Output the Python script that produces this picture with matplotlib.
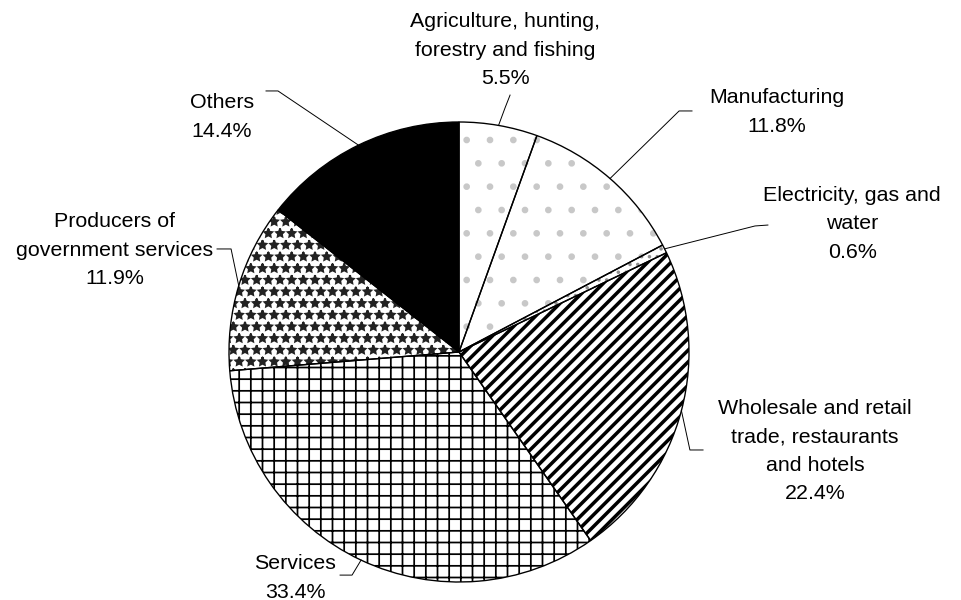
import numpy as np
import matplotlib
matplotlib.use("Agg")
from matplotlib import pyplot as plt

plt.rcParams['font.family'] = ['Liberation Sans', 'DejaVu Sans']

# GDP shares by sector (%), clockwise from 12 o'clock
sectors = ['Agriculture, hunting,\nforestry and fishing',
           'Manufacturing',
           'Electricity, gas and\nwater',
           'Wholesale and retail\ntrade, restaurants\nand hotels',
           'Services',
           'Producers of\ngovernment services',
           'Others']
shares = [5.5, 11.8, 0.6, 22.4, 33.4, 11.9, 14.4]

# look of each wedge
hatches = ['.', '.', '...', '////', '++', '**', '']
hatch_colors = ['#c8c8c8', '#c8c8c8', '#909090', 'black', 'black', '#222222', 'black']
fills = ['white', 'white', 'white', 'white', 'white', 'white', 'black']
hatch_widths = [1.0, 1.0, 1.0, 1.8, 0.9, 1.0, 1.0]

# label placement (data units, pie radius = 1)
text_pos = [(0.20, 1.313), (1.383, 1.043), (1.709, 0.557), (1.548, -0.430),
            (-0.713, -0.983), (-1.496, 0.443), (-1.030, 1.022)]
leader_elbow = [(0.200, 1.061), (0.957, 1.048), (1.287, 0.548), (1.004, -0.426),
                (-0.465, -0.970), (-0.991, 0.448), (-0.787, 1.135)]
leader_end = [(0.222, 1.117), (1.013, 1.048), (1.343, 0.552), (1.061, -0.426),
              (-0.517, -0.970), (-1.052, 0.448), (-0.839, 1.135)]

fig = plt.figure(figsize=(961 / 140, 600 / 140), dpi=140)
ax = fig.add_axes([0, 0, 1, 1])

# hatched fill pass
wedges, _ = ax.pie(shares, startangle=90, counterclock=False, radius=1,
                   colors=fills, wedgeprops=dict(linewidth=0))
for w, h, hc, hw in zip(wedges, hatches, hatch_colors, hatch_widths):
    w.set_hatch(h)
    w.set_edgecolor(hc)
    if hasattr(w, 'set_hatch_linewidth'):
        w.set_hatch_linewidth(hw)

# outline pass
ax.pie(shares, startangle=90, counterclock=False, radius=1,
       wedgeprops=dict(fill=False, edgecolor='black', linewidth=0.7))

# labels with leader lines
cum = np.cumsum([0] + shares)
for i, name in enumerate(sectors):
    mid = np.deg2rad(90 - 3.6 * (cum[i] + cum[i + 1]) / 2)
    xs = [np.cos(mid), leader_elbow[i][0], leader_end[i][0]]
    ys = [np.sin(mid), leader_elbow[i][1], leader_end[i][1]]
    ax.plot(xs, ys, color='black', lw=0.5)
    ax.text(text_pos[i][0], text_pos[i][1], f'{name}\n{shares[i]}%',
            ha='center', va='center', multialignment='center', fontsize=11,
            linespacing=1.62)

ax.set_xlim(-459 / 230, (961 - 459) / 230)
ax.set_ylim(-(600 - 352) / 230, 352 / 230)
ax.set_aspect('auto')
ax.axis('off')

fig.savefig('out.png', dpi=140, facecolor='white')
